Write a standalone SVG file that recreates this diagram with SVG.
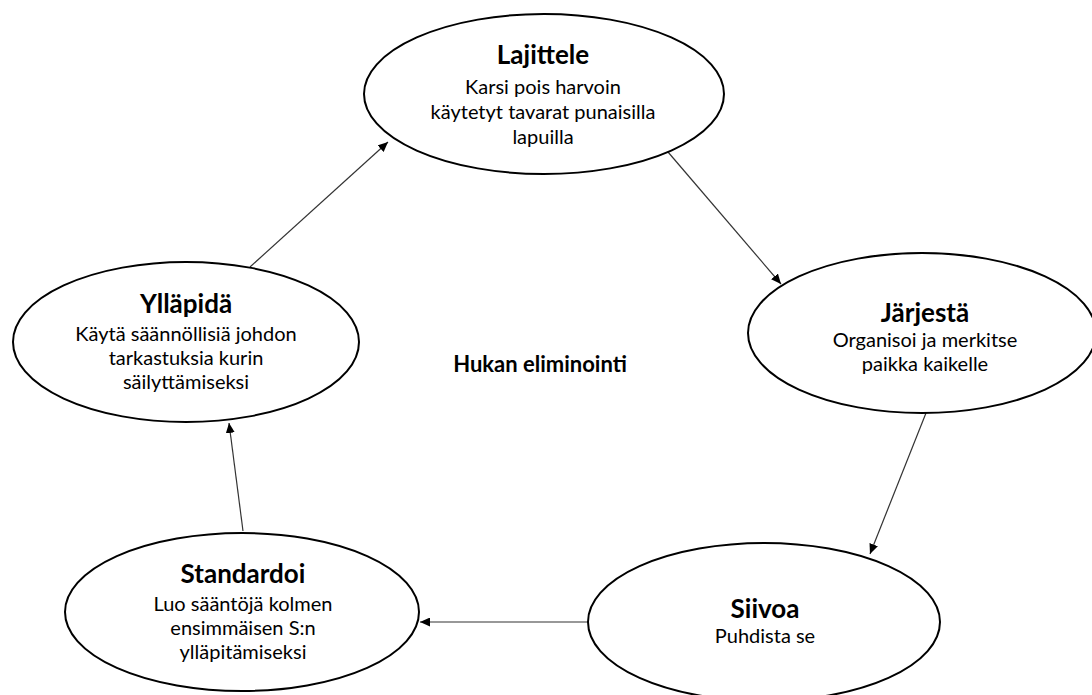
<svg xmlns="http://www.w3.org/2000/svg" width="1092" height="695" viewBox="0 0 1092 695">
<style>
.node ellipse{fill:#fff;stroke:#000;stroke-width:2}
.t{font-family:Lato,"Liberation Sans",sans-serif;font-weight:bold;font-size:26px;fill:#000;text-anchor:middle}
.c{font-family:Lato,"Liberation Sans",sans-serif;font-weight:bold;font-size:22px;fill:#000;text-anchor:middle}
.b{font-family:Lato,"Liberation Sans",sans-serif;font-size:20px;fill:#000;text-anchor:middle}
.conn line{stroke:#333;stroke-width:1.2;marker-end:url(#arr)}
</style>
<defs>
<marker id="arr" markerUnits="userSpaceOnUse" markerWidth="11" markerHeight="9" refX="10" refY="4.5" orient="auto">
<path d="M0,0 L10,4.5 L0,9 z" fill="#000"/>
</marker>
</defs>
<rect width="1092" height="695" fill="#fff"/>
<g id="connectors" class="conn">
<line x1="250" y1="267" x2="388" y2="142"/>
<line x1="668" y1="152" x2="781" y2="284"/>
<line x1="926" y1="413" x2="870" y2="554"/>
<line x1="589" y1="622" x2="420" y2="622"/>
<line x1="243" y1="531" x2="229" y2="423"/>
</g>
<g id="lajittele" class="node">
<ellipse cx="544" cy="94" rx="180" ry="80"/>
<text class="t" x="543" y="64">Lajittele</text>
<text class="b" x="543" y="94">Karsi pois harvoin</text>
<text class="b" x="543" y="119">käytetyt tavarat punaisilla</text>
<text class="b" x="543" y="144">lapuilla</text>
</g>
<g id="jarjesta" class="node">
<ellipse cx="922" cy="333" rx="174" ry="80"/>
<text class="t" x="925" y="322">Järjestä</text>
<text class="b" x="925" y="347">Organisoi ja merkitse</text>
<text class="b" x="925" y="371">paikka kaikelle</text>
</g>
<g id="siivoa" class="node">
<ellipse cx="764" cy="622" rx="176" ry="79"/>
<text class="t" x="765" y="618">Siivoa</text>
<text class="b" x="765" y="643">Puhdista se</text>
</g>
<g id="standardoi" class="node">
<ellipse cx="242" cy="612" rx="177" ry="79"/>
<text class="t" x="243" y="583">Standardoi</text>
<text class="b" x="243" y="611">Luo sääntöjä kolmen</text>
<text class="b" x="243" y="635">ensimmäisen S:n</text>
<text class="b" x="243" y="659">ylläpitämiseksi</text>
</g>
<g id="yllapida" class="node">
<ellipse cx="186" cy="342" rx="173" ry="80"/>
<text class="t" x="186" y="313">Ylläpidä</text>
<text class="b" x="186" y="341">Käytä säännöllisiä johdon</text>
<text class="b" x="186" y="365">tarkastuksia kurin</text>
<text class="b" x="186" y="389">säilyttämiseksi</text>
</g>
<g id="center">
<text class="c" x="540" y="372">Hukan eliminointi</text>
</g>
</svg>
